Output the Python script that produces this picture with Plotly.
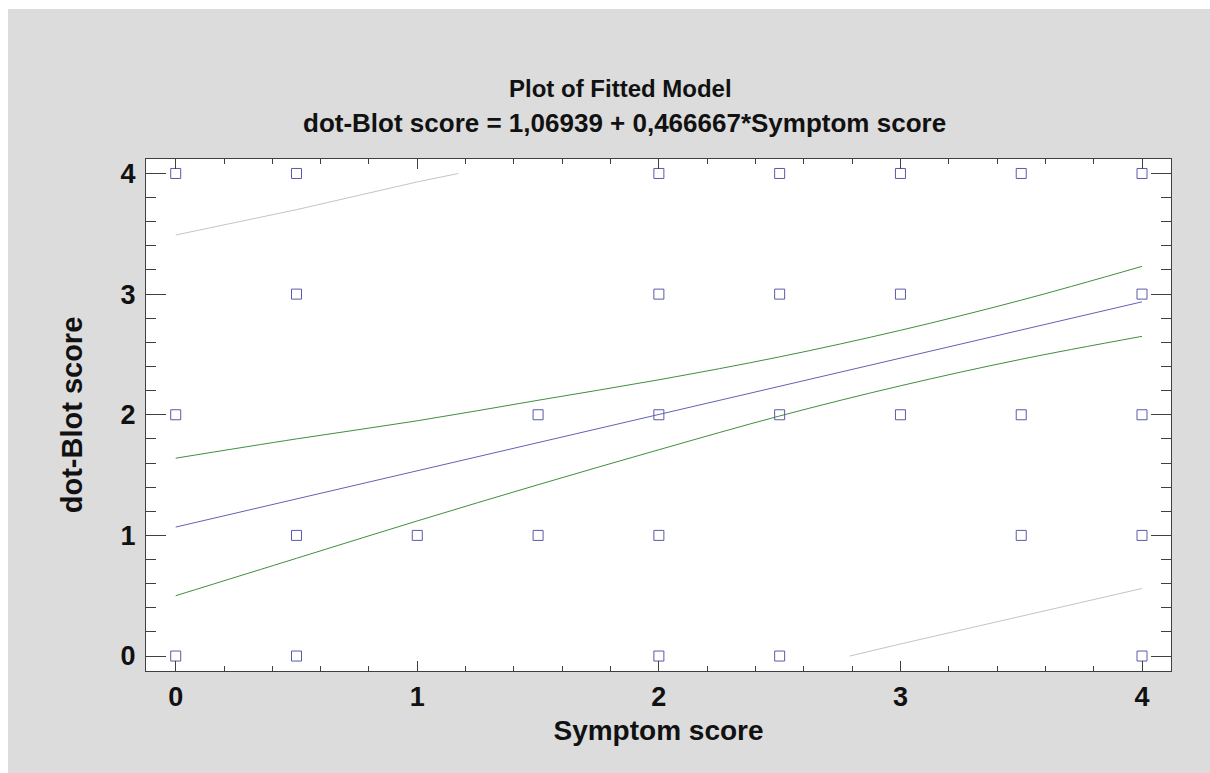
import plotly.graph_objects as go

# ---- data ----
pts_x = [0, 0.5, 2, 2.5, 3, 3.5, 4,
         0.5, 2, 2.5, 3, 4,
         0, 1.5, 2, 2.5, 3, 3.5, 4,
         0.5, 1, 1.5, 2, 3.5, 4,
         0, 0.5, 2, 2.5, 4]
pts_y = [4, 4, 4, 4, 4, 4, 4,
         3, 3, 3, 3, 3,
         2, 2, 2, 2, 2, 2, 2,
         1, 1, 1, 1, 1, 1,
         0, 0, 0, 0, 0]

band_x = [0, 0.5, 1, 1.5, 2, 2.5, 3, 3.5, 4]
fit_y = [1.069, 1.303, 1.536, 1.769, 2.003, 2.236, 2.469, 2.703, 2.936]
conf_upper = [1.64, 1.80, 1.95, 2.12, 2.29, 2.48, 2.70, 2.95, 3.23]
conf_lower = [0.50, 0.81, 1.12, 1.42, 1.71, 1.99, 2.24, 2.46, 2.65]

pred_upper_x = [0, 0.5, 1.0, 1.17]
pred_upper_y = [3.49, 3.70, 3.93, 4.0]
pred_lower_x = [2.79, 3.0, 3.5, 4.0]
pred_lower_y = [0.0, 0.10, 0.33, 0.56]

tick_vals = [0, 1, 2, 3, 4]
tick_text = ["0", "1", "2", "3", "4"]

title_1 = "Plot of Fitted Model"
title_2 = "dot-Blot score = 1,06939 + 0,466667*Symptom score"
x_title = "Symptom score"
y_title = "dot-Blot score"

FONT = "Liberation Sans, Arial, sans-serif"
AX = "#404040"
TXT = "#111111"

fig = go.Figure()
fig.add_trace(go.Scatter(x=pred_upper_x, y=pred_upper_y, mode="lines",
                         line=dict(color="#c4c4c4", width=1), hoverinfo="skip"))
fig.add_trace(go.Scatter(x=pred_lower_x, y=pred_lower_y, mode="lines",
                         line=dict(color="#c4c4c4", width=1), hoverinfo="skip"))
fig.add_trace(go.Scatter(x=band_x, y=conf_upper, mode="lines", line_shape="spline",
                         line=dict(color="#3f8f3f", width=1)))
fig.add_trace(go.Scatter(x=band_x, y=conf_lower, mode="lines", line_shape="spline",
                         line=dict(color="#3f8f3f", width=1)))
fig.add_trace(go.Scatter(x=band_x, y=fit_y, mode="lines",
                         line=dict(color="#6262b4", width=1)))
fig.add_trace(go.Scatter(x=pts_x, y=pts_y, mode="markers",
                         marker=dict(symbol="square-open", size=10,
                                     color="#5a5aaa", line=dict(width=1))))

L, R, T, B = 146, 39, 159, 102
W, H = 1210, 773
pw, ph = W - L - R, H - T - B


def px_x(p):
    return (p - L) / pw


def px_y(p):
    return (H - B - p) / ph


# grey frame with a thin white border at top/left, white plotting area
fig.add_shape(type="rect", xref="paper", yref="paper",
              x0=px_x(8), x1=px_x(W + 5), y0=px_y(H + 5), y1=px_y(9),
              fillcolor="#dcdcdc", line=dict(width=0), layer="below")
fig.add_shape(type="rect", xref="paper", yref="paper", x0=0, x1=1, y0=0, y1=1,
              fillcolor="white", line=dict(width=0), layer="below")

fig.add_annotation(text="<b>" + title_1 + "</b>", xref="paper", yref="paper",
                   x=px_x(620), y=px_y(88), xanchor="center", yanchor="middle",
                   showarrow=False, font=dict(family=FONT, size=24, color=TXT))
fig.add_annotation(text="<b>" + title_2 + "</b>", xref="paper", yref="paper",
                   x=px_x(624), y=px_y(123), xanchor="center", yanchor="middle",
                   showarrow=False, font=dict(family=FONT, size=26, color=TXT))

axis_common = dict(showline=True, linecolor=AX, linewidth=1, mirror="allticks",
                   showgrid=False, zeroline=False, ticks="inside", tickcolor=AX,
                   tickvals=tick_vals, ticktext=tick_text,
                   tickfont=dict(family=FONT, size=27, color=TXT, weight="bold"))

fig.update_xaxes(range=[-0.123, 4.12], ticklen=10, ticklabelstandoff=2,
                 minor=dict(dtick=0.2, tick0=0, ticks="inside", ticklen=5, tickcolor=AX),
                 title=dict(text="<b>" + x_title + "</b>", standoff=8,
                            font=dict(family=FONT, size=28, color=TXT)),
                 **axis_common)
fig.update_yaxes(range=[-0.124, 4.12], ticklen=20, ticklabelstandoff=4,
                 minor=dict(dtick=0.2, tick0=0, ticks="inside", ticklen=10, tickcolor=AX),
                 title=dict(text="<b>" + y_title + "</b>", standoff=29,
                            font=dict(family=FONT, size=29, color=TXT)),
                 **axis_common)

fig.update_layout(width=W, height=H, margin=dict(l=L, r=R, t=T, b=B),
                  paper_bgcolor="white", plot_bgcolor="white", showlegend=False)

fig.write_html("out.html")
